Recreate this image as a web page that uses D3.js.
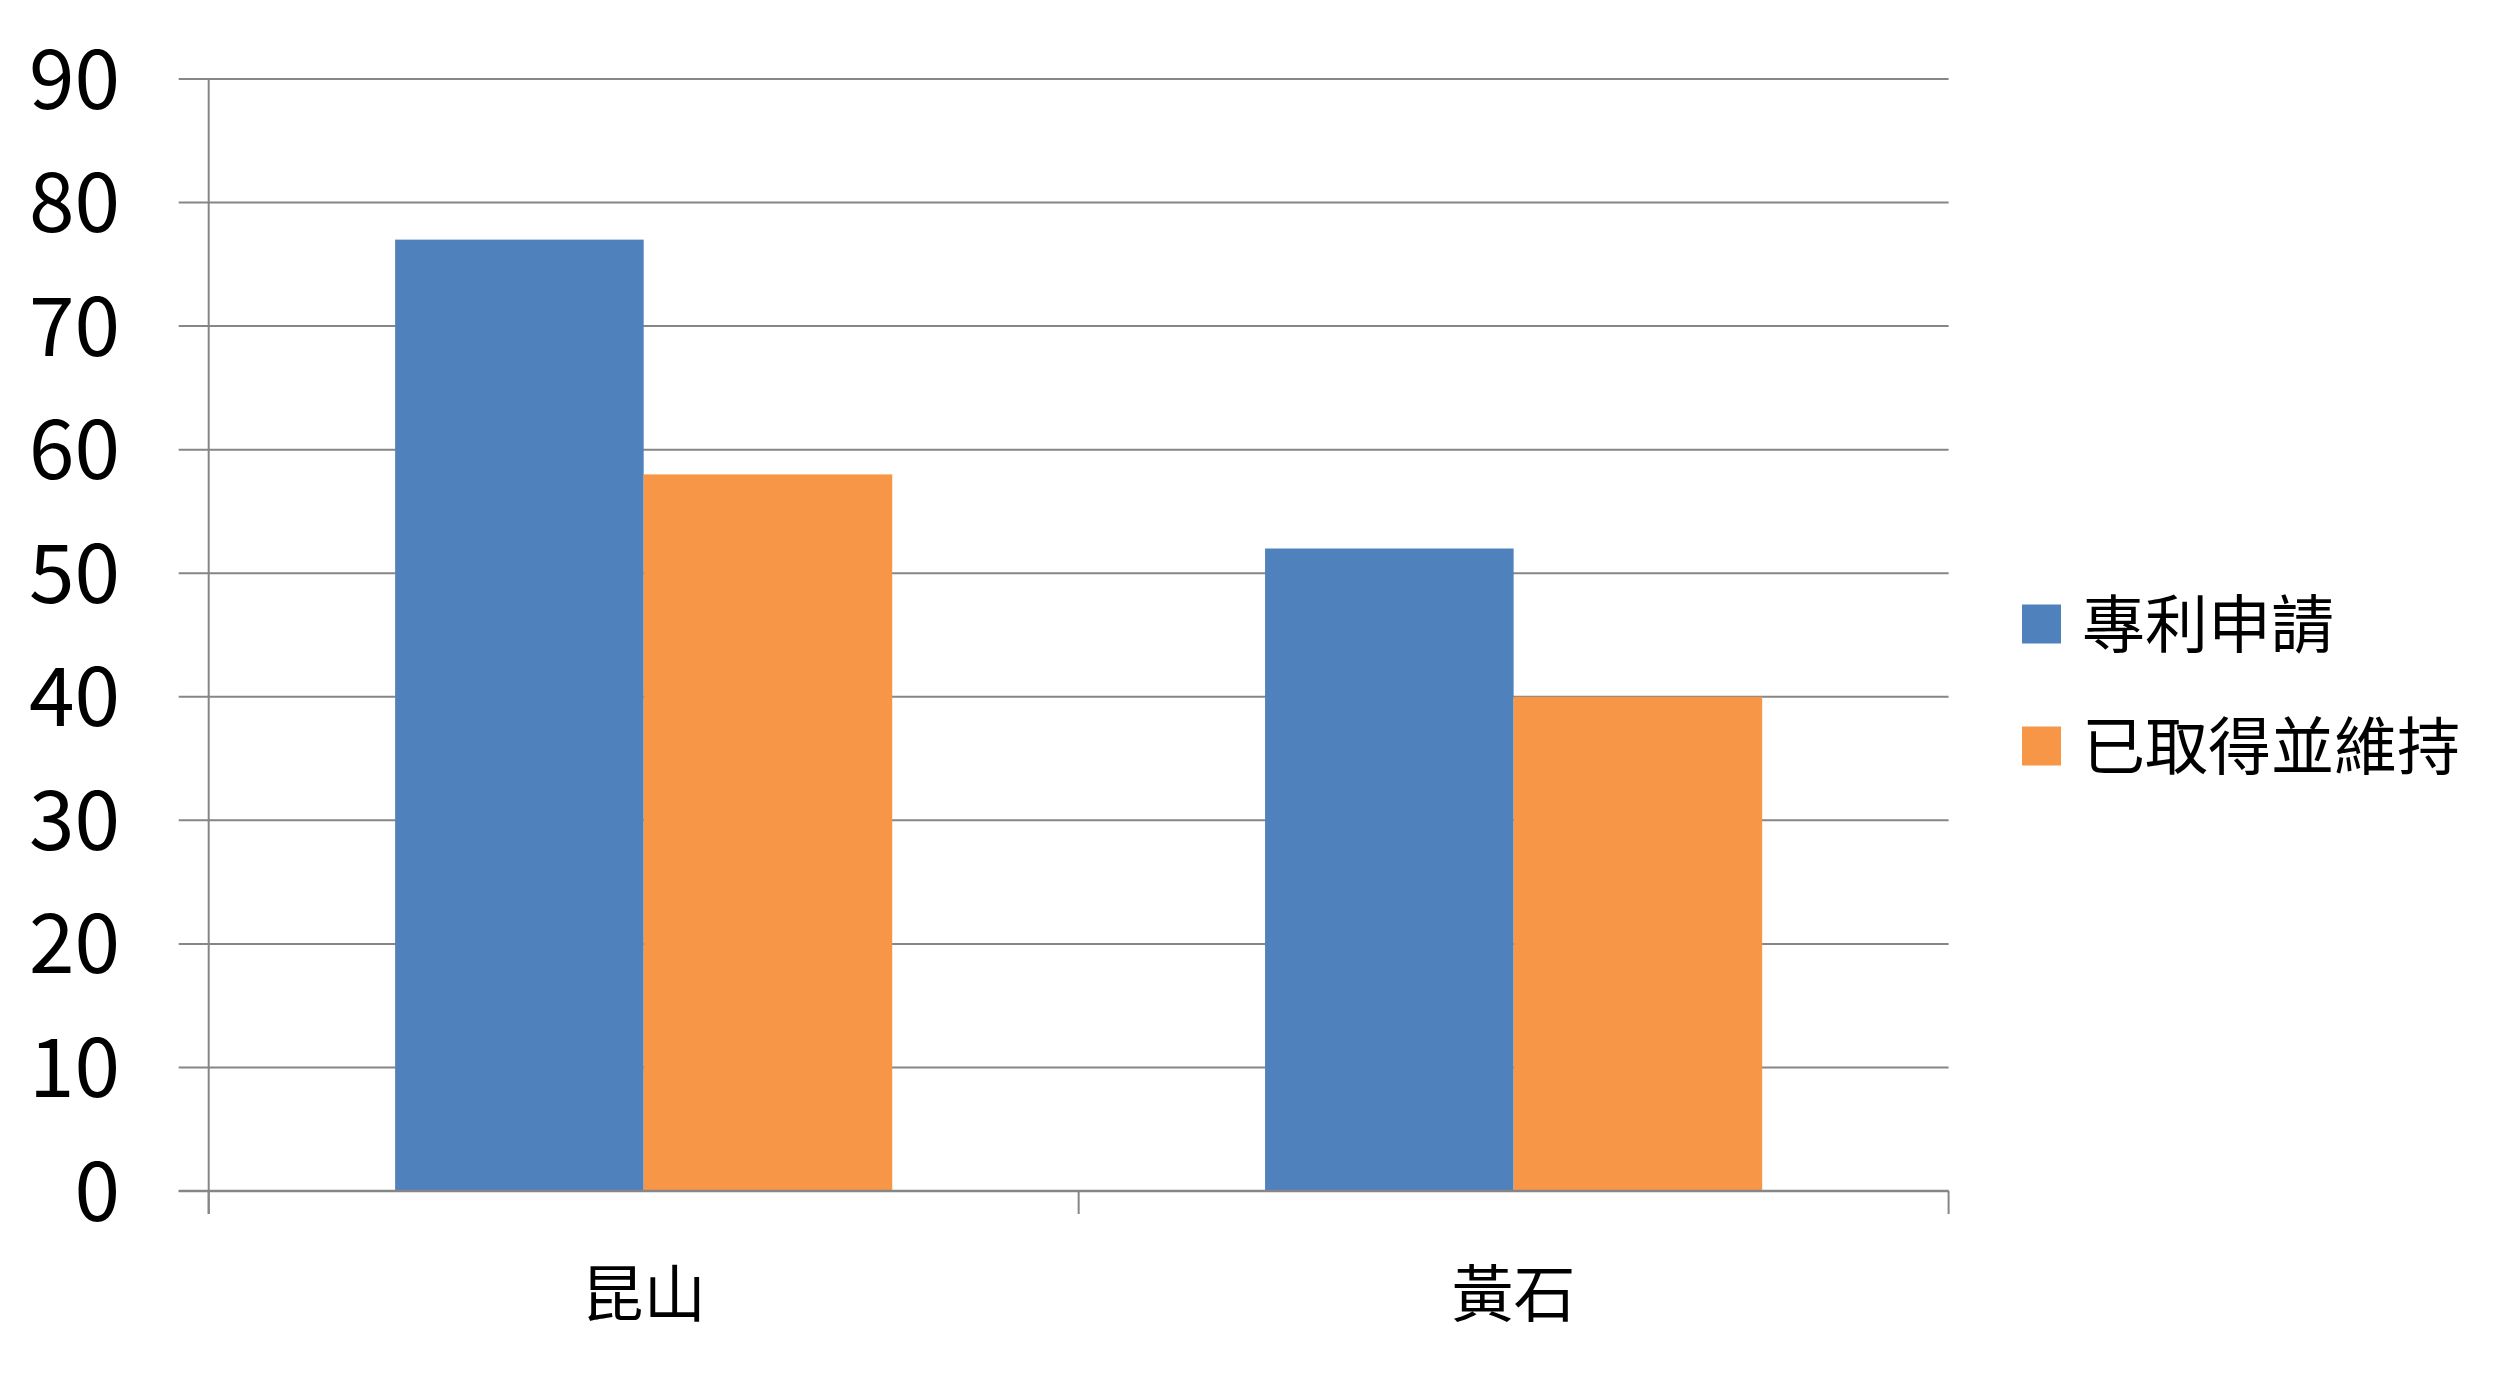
<!DOCTYPE html>
<html>
<head>
<meta charset="utf-8">
<script src="https://cdn.jsdelivr.net/npm/d3@7"></script>
<style>
  html, body { margin: 0; padding: 0; background: #fff; }
  svg { display: block; }
</style>
</head>
<body>
<svg id="chart" width="2517" height="1378"></svg>
<script>
const categories = ["昆山", "黃石"];
const seriesNames = ["專利申請", "已取得並維持"];
const seriesApply = [77, 52];
const seriesKept = [58, 40];
const yTicks = [0, 10, 20, 30, 40, 50, 60, 70, 80, 90];
const colors = ["#4F81BD", "#F79646"];

(function () {
const svg = d3.select("#chart");
const plotLeft = 208.7, plotRight = 1948.6, plotTop = 79, plotBottom = 1191;
const axisColor = "#868686";
const font = "'Noto Sans CJK TC', 'Noto Sans', sans-serif";

const y = d3.scaleLinear().domain([0, 90]).range([plotBottom, plotTop]);
const x0 = d3.scaleBand().domain(categories).range([plotLeft, plotRight]).paddingInner(0).paddingOuter(0);
const catW = x0.bandwidth();
const barW = catW / 3.5;
const x1 = d3.scaleBand().domain(seriesNames).range([catW * 0.75 / 3.5, catW * 0.75 / 3.5 + 2 * barW]).padding(0);

const data = categories.map((c, i) => ({ cat: c, vals: [seriesApply[i], seriesKept[i]] }));

// gridlines + y ticks
svg.append("g").selectAll("line").data(yTicks).join("line")
  .attr("x1", plotLeft - 30).attr("x2", plotRight)
  .attr("y1", d => y(d)).attr("y2", d => y(d))
  .attr("stroke", axisColor).attr("stroke-width", 2);

// bars
const groups = svg.append("g").selectAll("g").data(data).join("g")
  .attr("transform", d => `translate(${x0(d.cat)},0)`);
groups.selectAll("rect").data(d => d.vals.map((v, j) => ({ v, s: seriesNames[j], j })))
  .join("rect")
  .attr("x", d => x1(d.s)).attr("width", x1.bandwidth())
  .attr("y", d => y(d.v)).attr("height", d => y(0) - y(d.v))
  .attr("fill", d => colors[d.j]);

// y axis line
svg.append("line").attr("x1", plotLeft).attr("x2", plotLeft).attr("y1", plotTop).attr("y2", plotBottom + 23)
  .attr("stroke", axisColor).attr("stroke-width", 2);
// x axis line
svg.append("line").attr("x1", plotLeft - 30).attr("x2", plotRight).attr("y1", plotBottom).attr("y2", plotBottom)
  .attr("stroke", axisColor).attr("stroke-width", 2.5);
// x ticks
const xTickPos = [plotLeft, ...categories.map(c => x0(c) + catW)];
svg.append("g").selectAll("line").data(xTickPos).join("line")
  .attr("x1", d => d).attr("x2", d => d).attr("y1", plotBottom).attr("y2", plotBottom + 23)
  .attr("stroke", axisColor).attr("stroke-width", 2);

// y labels
svg.append("g").selectAll("text").data(yTicks).join("text")
  .attr("x", 120).attr("y", d => y(d)).attr("dy", "0.36em")
  .attr("text-anchor", "end")
  .attr("font-family", font).attr("font-size", 82).attr("fill", "#000")
  .text(d => d);

// x labels
svg.append("g").selectAll("text").data(categories).join("text")
  .attr("x", d => x0(d) + catW / 2).attr("y", 1295).attr("dy", "0.36em")
  .attr("text-anchor", "middle")
  .attr("font-family", font).attr("font-size", 62).attr("fill", "#000")
  .text(d => d);

// legend
const legendY = [624, 746];
const lg = svg.append("g").selectAll("g").data(seriesNames).join("g")
  .attr("transform", (d, i) => `translate(2022,${legendY[i]})`);
lg.append("rect").attr("x", 0).attr("y", -19.5).attr("width", 39).attr("height", 39)
  .attr("fill", (d, i) => colors[i]);
lg.append("text").attr("x", 60).attr("y", 0).attr("dy", "0.36em")
  .attr("font-family", font).attr("font-size", 63).attr("fill", "#000")
  .text(d => d);
})();
</script>
</body>
</html>
